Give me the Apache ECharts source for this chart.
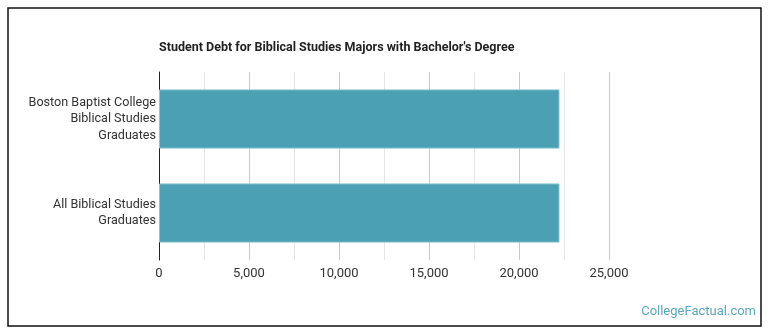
<!DOCTYPE html>
<html>
<head>
<meta charset="utf-8">
<script src="https://cdn.jsdelivr.net/npm/echarts@6/dist/echarts.min.js"></script>
<style>
html,body{margin:0;padding:0;background:#fff;}
#c{width:770px;height:335px;}
</style>
</head>
<body>
<div id="c"></div>
<script>
const titleText = "Student Debt for Biblical Studies Majors with Bachelor's Degree";
const categories = ["Boston Baptist College\nBiblical Studies\nGraduates", "All Biblical Studies\nGraduates"];
const debtValues = [22250, 22250];
const tickLabels = ["0", "5,000", "10,000", "15,000", "20,000", "25,000"];
const watermark = "CollegeFactual.com";

const chart = echarts.init(document.getElementById('c'), null, {renderer: 'canvas'});
chart.setOption({
  animation: false,
  backgroundColor: '#fff',
  title: {
    text: titleText,
    left: 154, top: 36,
    textStyle: {fontFamily: 'Roboto', fontWeight: 'bold', fontSize: 12.5, color: '#222'}
  },
  grid: {left: 159, right: 161, top: 72, bottom: 75, containLabel: false},
  xAxis: {
    type: 'value', min: 0, max: 25000, interval: 2500,
    axisLine: {show: false}, axisTick: {show: false},
    splitLine: {show: true, lineStyle: {color: ['#c8c8c8', '#e6e6e6'], width: 1}},
    axisLabel: {
      margin: 7, color: '#333', fontFamily: 'Roboto', fontSize: 13,
      formatter: function (v) { return v % 5000 === 0 ? tickLabels[v / 5000] : ''; }
    }
  },
  yAxis: {
    type: 'category', inverse: true, data: categories,
    axisLine: {show: true, lineStyle: {color: '#222', width: 1}},
    axisTick: {show: false},
    axisLabel: {margin: 3, color: '#333', fontFamily: 'Roboto', fontSize: 12.6, lineHeight: 16.5, align: 'right', padding: [8, 0, 0, 0]}
  },
  series: [{
    type: 'bar', data: debtValues, barCategoryGap: '37%',
    itemStyle: {color: '#4ba0b4', borderColor: '#8cc6d3', borderWidth: 1}
  }],
  graphic: [
    {type: 'rect', shape: {x: 8, y: 8, width: 753, height: 318}, style: {fill: 'none', stroke: '#111', lineWidth: 1.5}, z: 100},
    {type: 'text', right: 14, top: 305, style: {text: watermark, fontFamily: 'Roboto', fontSize: 13, fill: '#5aa8bd'}, z: 100}
  ]
});
</script>
</body>
</html>
